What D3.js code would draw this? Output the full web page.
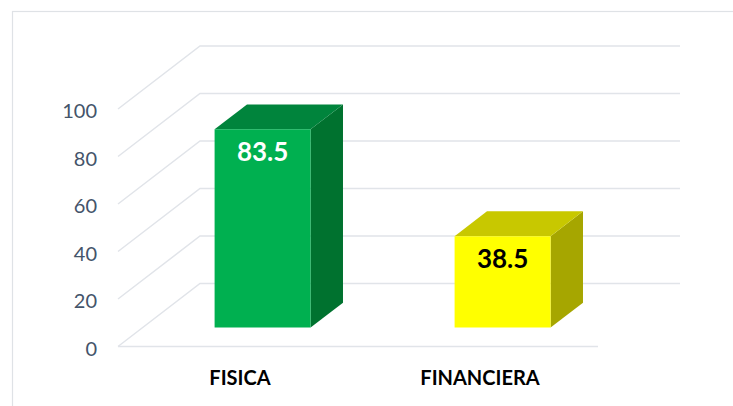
<!DOCTYPE html>
<html>
<head>
<meta charset="utf-8">
<script src="https://cdn.jsdelivr.net/npm/d3@7"></script>
<style>
  body { margin: 0; background: #fff; }
  text { font-family: Lato, "Open Sans", sans-serif; }
</style>
</head>
<body>
<div id="chart"></div>
<script>
// Data
var categories = ["FISICA", "FINANCIERA"];
var values = [83.5, 38.5];
var tickValues = [0, 20, 40, 60, 80, 100];

// colours: front, top, side
var frontColors = ["#00b050", "#ffff00"];
var topColors = ["#00843c", "#c8c800"];
var sideColors = ["#00722f", "#a6a600"];
var labelColors = ["#ffffff", "#000000"];

var W = 733, H = 406;

// front plane of the 3d box
var x = d3.scaleBand().domain(categories).range([118, 598]);
var y = d3.scaleLinear().domain([0, 100]).range([346.5, 109]);

// full depth of the box, in pixels
var depthX = 82, depthY = -63;
// bar sits between these fractions of the depth
var bar0 = 0.30, bar1 = 0.695;

function proj(px, v, t) {
    return [px + depthX * t, y(v) + depthY * t];
}

var svg = d3.select("#chart")
    .append("svg")
        .attr("width", W)
        .attr("height", H);

// chart border
svg.append("rect")
    .attr("x", 12.5).attr("y", 11.5)
    .attr("width", W).attr("height", H)
    .attr("fill", "none")
    .attr("stroke", "#dfe2e6")
    .attr("stroke-width", 1.2);

var line = d3.line();
var xLeft = x.range()[0], xRight = x.range()[1];

// gridlines: side wall + back wall
svg.append("g").selectAll("path")
    .data(tickValues)
    .enter().append("path")
        .attr("d", function(v) {
            return line([proj(xLeft, v, 0), proj(xLeft, v, 1), proj(xRight, v, 1)]);
        })
        .attr("fill", "none")
        .attr("stroke", "#e1e4e9")
        .attr("stroke-width", 1.5);

// floor front edge
svg.append("path")
    .attr("d", line([proj(xLeft, 0, 0), proj(xRight, 0, 0)]))
    .attr("fill", "none")
    .attr("stroke", "#e1e4e9")
    .attr("stroke-width", 1.5);

// tick labels
svg.append("g").selectAll("text")
    .data(tickValues)
    .enter().append("text")
        .attr("x", 97)
        .attr("y", function(v) { return y(v) + 9; })
        .attr("text-anchor", "end")
        .attr("font-size", "20px")
        .attr("fill", "#44546a")
        .text(function(v) { return v; });

// bars
var bw = x.bandwidth() * 0.4;
var bars = svg.append("g").selectAll("g")
    .data(values)
    .enter().append("g");

function xl(i) { return x(categories[i]) + (x.bandwidth() - bw) / 2; }

bars.append("path") // side
    .attr("d", function(v, i) {
        var r = xl(i) + bw;
        return line([proj(r, 0, bar0), proj(r, 0, bar1), proj(r, v, bar1), proj(r, v, bar0)]) + "Z";
    })
    .attr("fill", function(v, i) { return sideColors[i]; });

bars.append("path") // top
    .attr("d", function(v, i) {
        var l = xl(i), r = l + bw;
        return line([proj(l, v, bar0), proj(r, v, bar0), proj(r, v, bar1), proj(l, v, bar1)]) + "Z";
    })
    .attr("fill", function(v, i) { return topColors[i]; });

bars.append("path") // front
    .attr("d", function(v, i) {
        var l = xl(i), r = l + bw;
        return line([proj(l, 0, bar0), proj(r, 0, bar0), proj(r, v, bar0), proj(l, v, bar0)]) + "Z";
    })
    .attr("fill", function(v, i) { return frontColors[i]; });

// value labels
bars.append("text")
    .attr("x", function(v, i) { return proj(xl(i) + bw / 2, v, bar0)[0]; })
    .attr("y", function(v, i) { return proj(0, v, bar0)[1] + 31.5; })
    .attr("text-anchor", "middle")
    .attr("font-size", "26px")
    .attr("font-weight", "bold")
    .attr("fill", function(v, i) { return labelColors[i]; })
    .text(function(v) { return v; });

// category labels
svg.append("g").selectAll("text")
    .data(categories)
    .enter().append("text")
        .attr("x", function(c) { return x(c) + x.bandwidth() / 2 + 2; })
        .attr("y", 385)
        .attr("text-anchor", "middle")
        .attr("font-size", "20px")
        .attr("font-weight", "bold")
        .attr("fill", "#000")
        .text(function(c) { return c; });
</script>
</body>
</html>
